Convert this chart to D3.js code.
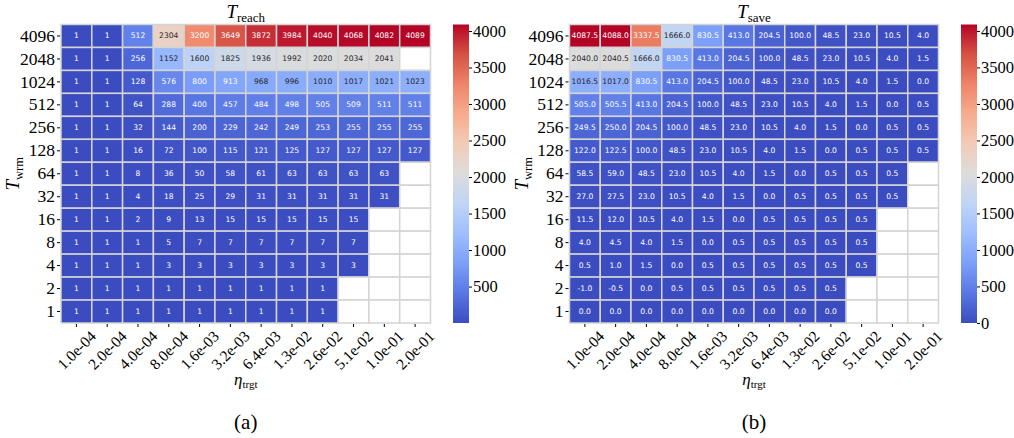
<!DOCTYPE html>
<html><head><meta charset="utf-8">
<script src="https://cdn.jsdelivr.net/npm/d3@7"></script>
<style>body{margin:0;background:#fff}svg{display:block}</style>
</head><body><svg id="c" width="1014" height="438"></svg>
<script>
const etaLabels = ["1.0e-04","2.0e-04","4.0e-04","8.0e-04","1.6e-03","3.2e-03","6.4e-03","1.3e-02","2.6e-02","5.1e-02","1.0e-01","2.0e-01"];
const wrmLabels = ["4096","2048","1024","512","256","128","64","32","16","8","4","2","1"];
const reachValues = [
 [1,1,512,2304,3200,3649,3872,3984,4040,4068,4082,4089],
 [1,1,256,1152,1600,1825,1936,1992,2020,2034,2041,null],
 [1,1,128,576,800,913,968,996,1010,1017,1021,1023],
 [1,1,64,288,400,457,484,498,505,509,511,511],
 [1,1,32,144,200,229,242,249,253,255,255,255],
 [1,1,16,72,100,115,121,125,127,127,127,127],
 [1,1,8,36,50,58,61,63,63,63,63,null],
 [1,1,4,18,25,29,31,31,31,31,31,null],
 [1,1,2,9,13,15,15,15,15,15,null,null],
 [1,1,1,5,7,7,7,7,7,7,null,null],
 [1,1,1,3,3,3,3,3,3,3,null,null],
 [1,1,1,1,1,1,1,1,1,null,null,null],
 [1,1,1,1,1,1,1,1,1,null,null,null]
];
const saveValues = [
 [4087.5,4088.0,3337.5,1666.0,830.5,413.0,204.5,100.0,48.5,23.0,10.5,4.0],
 [2040.0,2040.5,1666.0,830.5,413.0,204.5,100.0,48.5,23.0,10.5,4.0,1.5],
 [1016.5,1017.0,830.5,413.0,204.5,100.0,48.5,23.0,10.5,4.0,1.5,0.0],
 [505.0,505.5,413.0,204.5,100.0,48.5,23.0,10.5,4.0,1.5,0.0,0.5],
 [249.5,250.0,204.5,100.0,48.5,23.0,10.5,4.0,1.5,0.0,0.5,0.5],
 [122.0,122.5,100.0,48.5,23.0,10.5,4.0,1.5,0.0,0.5,0.5,0.5],
 [58.5,59.0,48.5,23.0,10.5,4.0,1.5,0.0,0.5,0.5,0.5,null],
 [27.0,27.5,23.0,10.5,4.0,1.5,0.0,0.5,0.5,0.5,0.5,null],
 [11.5,12.0,10.5,4.0,1.5,0.0,0.5,0.5,0.5,0.5,null,null],
 [4.0,4.5,4.0,1.5,0.0,0.5,0.5,0.5,0.5,0.5,null,null],
 [0.5,1.0,1.5,0.0,0.5,0.5,0.5,0.5,0.5,0.5,null,null],
 [-1.0,-0.5,0.0,0.5,0.5,0.5,0.5,0.5,0.5,null,null,null],
 [0.0,0.0,0.0,0.0,0.0,0.0,0.0,0.0,0.0,null,null,null]
];
const reachTicks = [500,1000,1500,2000,2500,3000,3500,4000];
const saveTicks = [0,500,1000,1500,2000,2500,3000,3500,4000];
const coolwarm = ["#3b4cc0","#5977e3","#7b9ff9","#9ebeff","#c0d4f5","#dddcdc","#f2cbb7","#f7ac8e","#ee8468","#d65244","#b40426"];

const svg = d3.select("#c");
const SERIF = "'Liberation Serif','DejaVu Serif',serif";

function lum(c){
  const r = d3.rgb(c);
  const f = v => { v/=255; return v<=0.03928? v/12.92 : Math.pow((v+0.055)/1.055,2.4); };
  return 0.2126*f(r.r)+0.7152*f(r.g)+0.0722*f(r.b);
}

function panel(opt){
  const {x0,x1,y0,y1,values,fmt,ticks,cbx,title,caption,id} = opt;
  const flat = values.flat().filter(v=>v!==null);
  const vmin = d3.min(flat), vmax = d3.max(flat);
  const color = d3.scaleLinear()
    .domain(coolwarm.map((_,i)=>vmin+(vmax-vmin)*i/(coolwarm.length-1)))
    .range(coolwarm).interpolate(d3.interpolateRgb);
  const x = d3.scaleBand().domain(etaLabels).range([x0,x1]);
  const y = d3.scaleBand().domain(wrmLabels).range([y0,y1]);
  const g = svg.append("g");
  const cells = [];
  values.forEach((row,i)=>row.forEach((v,j)=>cells.push({r:wrmLabels[i],c:etaLabels[j],v})));
  g.selectAll("rect.cell").data(cells).enter().append("rect")
    .attr("x",d=>x(d.c)).attr("y",d=>y(d.r))
    .attr("width",x.bandwidth()).attr("height",y.bandwidth())
    .attr("fill",d=>d.v===null?"#ffffff":color(d.v))
    .attr("stroke","#d4d4d4").attr("stroke-width",1.5);
  g.selectAll("text.ann").data(cells.filter(d=>d.v!==null)).enter().append("text")
    .attr("x",d=>x(d.c)+x.bandwidth()/2).attr("y",d=>y(d.r)+y.bandwidth()/2)
    .attr("text-anchor","middle").attr("dominant-baseline","central")
    .attr("font-family","'DejaVu Sans',sans-serif").attr("font-size",7.6)
    .attr("fill",d=>lum(color(d.v))>0.408?"#262626":"#ffffff")
    .text(d=>fmt(d.v));
  // y axis
  const ya = g.append("g").attr("transform",`translate(${x0-1},0)`)
    .call(d3.axisLeft(y).tickSize(3).tickPadding(2));
  ya.select(".domain").remove();
  ya.selectAll("text").attr("font-family",SERIF).attr("font-size",17.5).attr("fill","#000");
  ya.selectAll("line").attr("stroke","#000");
  // x axis
  const xa = g.append("g").attr("transform",`translate(0,${y1+1})`)
    .call(d3.axisBottom(x).tickSize(3));
  xa.select(".domain").remove();
  xa.selectAll("line").attr("stroke","#000");
  xa.selectAll("text").attr("font-family",SERIF).attr("font-size",15.5).attr("fill","#000")
    .attr("text-anchor","middle").attr("dominant-baseline","central")
    .attr("y",26).attr("dy",0)
    .attr("transform","rotate(-45,0,26)");
  const cx = (x0+x1)/2;
  // title
  const t = svg.append("text").attr("x",cx).attr("y",18).attr("text-anchor","middle")
    .attr("font-family",SERIF).attr("fill","#000");
  t.append("tspan").attr("font-style","italic").attr("font-size",19).text("T");
  t.append("tspan").attr("font-size",13).attr("dy",4).text(title);
  // x label
  const xl = svg.append("text").attr("x",cx).attr("y",385).attr("text-anchor","middle")
    .attr("font-family",SERIF).attr("fill","#000");
  xl.append("tspan").attr("font-style","italic").attr("font-size",17).text("η");
  xl.append("tspan").attr("font-size",11).attr("dy",3).text("trgt");
  // y label
  const yl = svg.append("text").attr("transform",`translate(${x0-42},${(y0+y1)/2}) rotate(-90)`)
    .attr("text-anchor","middle").attr("font-family",SERIF).attr("fill","#000");
  yl.append("tspan").attr("font-style","italic").attr("font-size",19).text("T");
  yl.append("tspan").attr("font-size",12.5).attr("dy",4).text("wrm");
  // caption
  svg.append("text").attr("x",cx).attr("y",429).attr("text-anchor","middle")
    .attr("font-family",SERIF).attr("font-size",21).attr("fill","#000").text(caption);
  // colorbar
  const grad = svg.append("defs").append("linearGradient").attr("id",id)
    .attr("x1",0).attr("y1",1).attr("x2",0).attr("y2",0);
  d3.range(0,1.0001,0.02).forEach(p=>grad.append("stop").attr("offset",p)
    .attr("stop-color",color(vmin+(vmax-vmin)*p)));
  svg.append("rect").attr("x",cbx).attr("y",y0).attr("width",16).attr("height",y1-y0)
    .attr("fill",`url(#${id})`);
  const cs = d3.scaleLinear().domain([vmin,vmax]).range([y1,y0]);
  const ca = svg.append("g").attr("transform",`translate(${cbx+16},0)`)
    .call(d3.axisRight(cs).tickValues(ticks).tickSize(3).tickPadding(1).tickFormat(d3.format("d")));
  ca.select(".domain").remove();
  ca.selectAll("line").attr("stroke","#000");
  ca.selectAll("text").attr("font-family",SERIF).attr("font-size",16.5).attr("fill","#000");
}

panel({x0:61,x1:430.5,y0:24.5,y1:323,values:reachValues,fmt:d=>String(d),ticks:reachTicks,cbx:453,title:"reach",caption:"(a)",id:"g1"});
panel({x0:569.5,x1:938.5,y0:24.5,y1:323,values:saveValues,fmt:d=>d.toFixed(1),ticks:saveTicks,cbx:961,title:"save",caption:"(b)",id:"g2"});
</script></body></html>
